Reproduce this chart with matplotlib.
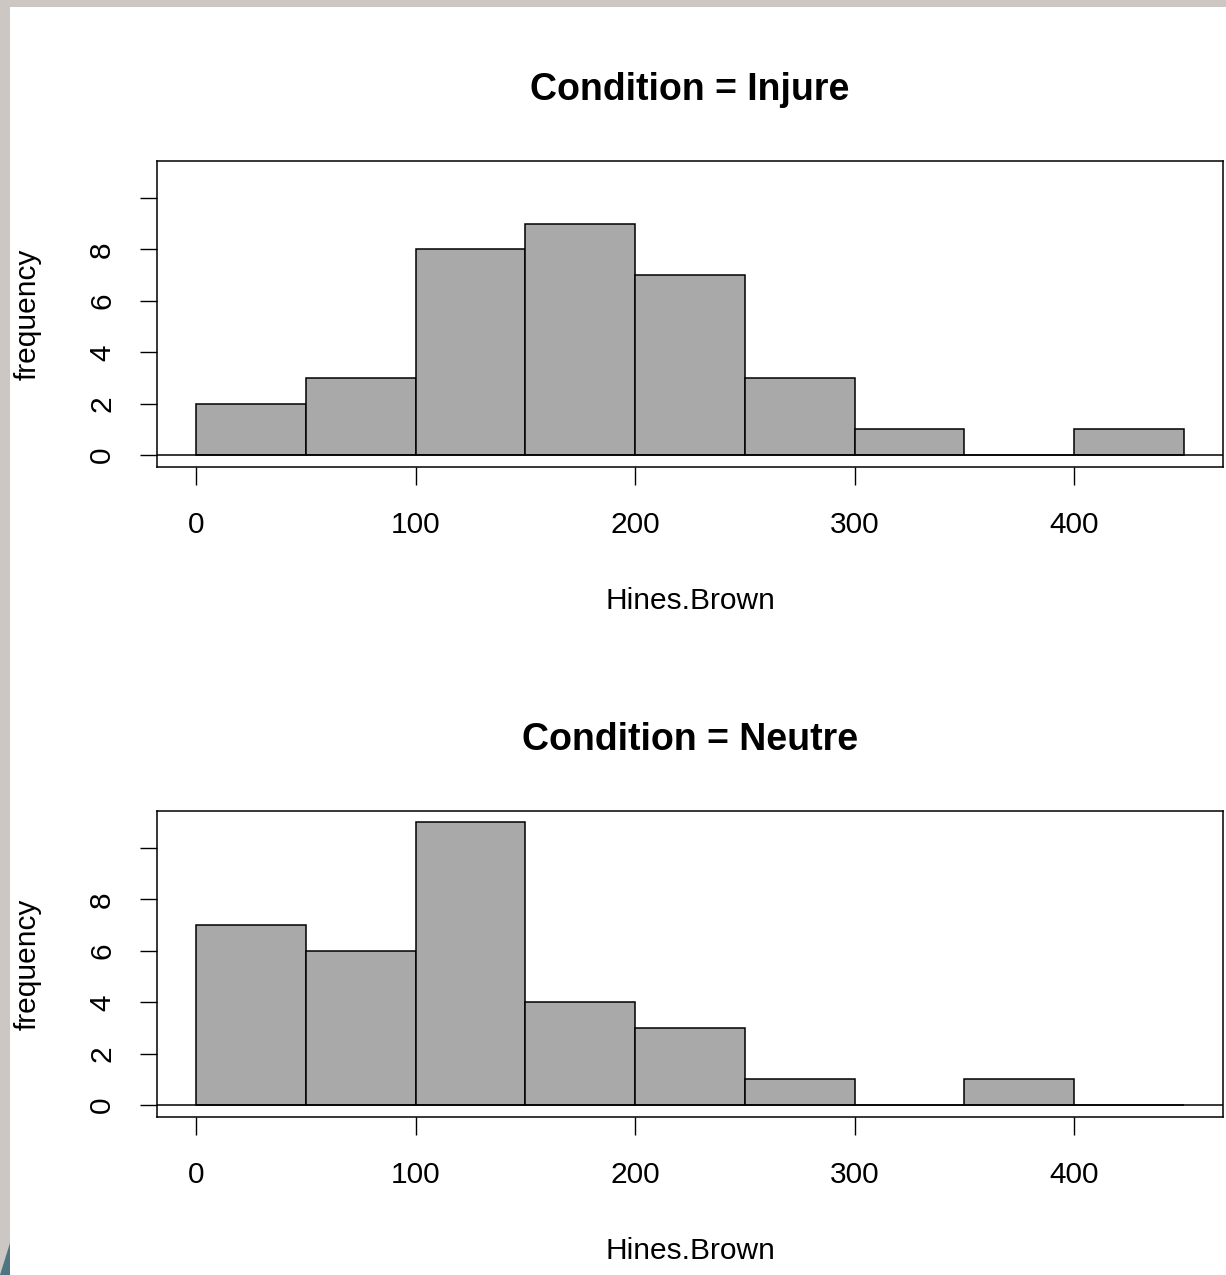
import matplotlib
matplotlib.use("Agg")
import matplotlib.pyplot as plt
from matplotlib.patches import Rectangle, Polygon
import numpy as np

plt.rcParams['font.family'] = ['Liberation Sans', 'DejaVu Sans']

# ---- data ----
bin_edges = [0, 50, 100, 150, 200, 250, 300, 350, 400, 450]
injure_counts = [2, 3, 8, 9, 7, 3, 1, 0, 1]
neutre_counts = [7, 6, 11, 4, 3, 1, 0, 1, 0]
titles = ["Condition = Injure", "Condition = Neutre"]
x_ticks = [0, 100, 200, 300, 400]
y_ticks = [0, 2, 4, 6, 8, 10]
y_ticklabels = ["0", "2", "4", "6", "8", ""]
x_label = "Hines.Brown"
y_label = "frequency"

W, H = 1226, 1275
fig = plt.figure(figsize=(W / 100, H / 100), dpi=100)
fig.patch.set_facecolor("white")

# screenshot frame
fig.patches.append(Rectangle((0, 1 - 7 / H), 1, 7 / H, transform=fig.transFigure,
                             facecolor="#CCC7C2", edgecolor="none", zorder=0))
fig.patches.append(Rectangle((0, 0), 10 / W, 1, transform=fig.transFigure,
                             facecolor="#CCC7C2", edgecolor="none", zorder=0))
fig.patches.append(Polygon([(10 / W, 1 - 1243 / H), (10 / W, 0), (0, 0)], closed=True,
                           transform=fig.transFigure, facecolor="#4F7580",
                           edgecolor="none", zorder=1))

left = 157 / W
width = (1223 - 157) / W
ax_h = (467 - 161) / H
bottoms = [1 - 467 / H, 1 - 1117 / H]

for counts, title, bot in zip([injure_counts, neutre_counts], titles, bottoms):
    ax = fig.add_axes([left, bot, width, ax_h])
    edges = np.array(bin_edges)
    ax.bar(edges[:-1], counts, width=np.diff(edges), align="edge",
           color="#A9A9A9", edgecolor="black", linewidth=1.1, zorder=2)
    ax.axhline(0, color="black", linewidth=1.1, zorder=3)
    ax.set_xlim(-18, 468)
    ax.set_ylim(-0.46, 11.44)
    ax.set_xticks(x_ticks)
    ax.set_xticklabels([str(t) for t in x_ticks], fontsize=21.5)
    ax.set_yticks(y_ticks)
    ax.set_yticklabels(y_ticklabels, fontsize=21.5, rotation=90, va="center")
    ax.tick_params(axis="x", length=13, width=1.0, pad=18.5, colors="black")
    ax.tick_params(axis="y", length=12.5, width=1.0, pad=17, colors="black")
    for s in ax.spines.values():
        s.set_linewidth(1.1)
    ax.set_xlabel(x_label, fontsize=21.5, va="center")
    ax.xaxis.set_label_coords(0.5, (467 - 601) / 306)
    ax.set_ylabel(y_label, fontsize=21.5, va="center")
    ax.yaxis.set_label_coords((28 - 157) / 1066, 0.5)
    ax.set_title(title, fontsize=27, fontweight="bold", y=1 + 71 / 306, va="center", pad=0)

fig.savefig("out.png", dpi=100)
